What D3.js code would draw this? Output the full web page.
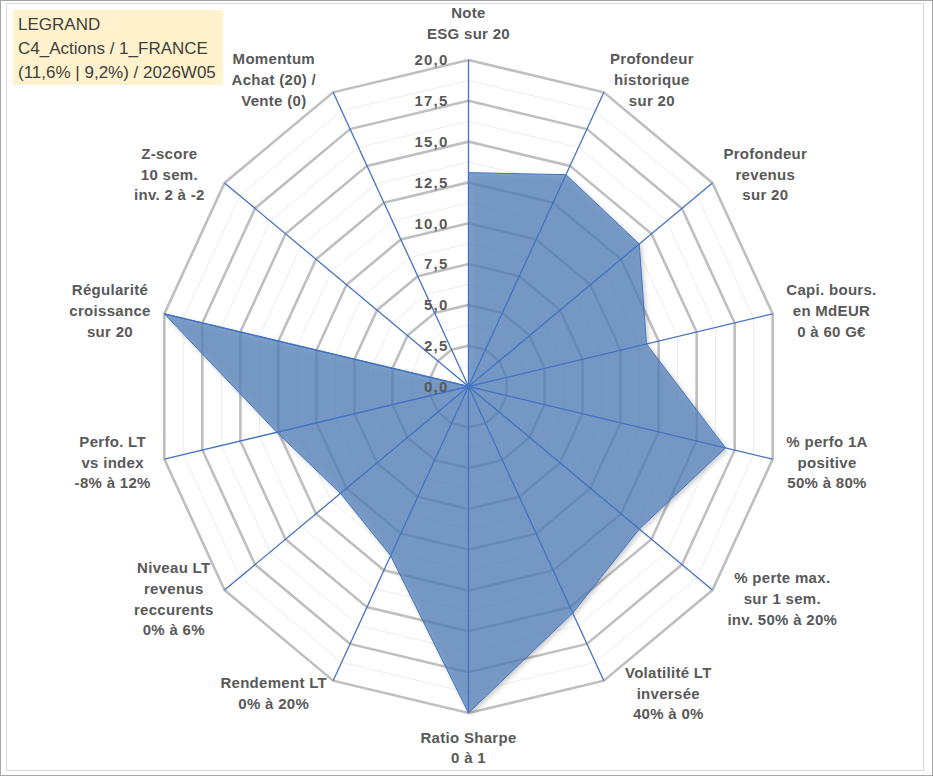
<!DOCTYPE html>
<html>
<head>
<meta charset="utf-8">
<script src="https://cdn.jsdelivr.net/npm/d3@7"></script>
<style>
  body { margin: 0; background: #fff; }
  svg { display: block; }
</style>
</head>
<body>
<div id="chart"></div>
<script>
// axis labels, clockwise from the top
const categories = [
  ["Note", "ESG sur 20"],
  ["Profondeur", "historique", "sur 20"],
  ["Profondeur", "revenus", "sur 20"],
  ["Capi. bours.", "en MdEUR", "0 à 60 G€"],
  ["% perfo 1A", "positive", "50% à 80%"],
  ["% perte max.", "sur 1 sem.", "inv. 50% à 20%"],
  ["Volatilité LT", "inversée", "40% à 0%"],
  ["Ratio Sharpe", "0 à 1"],
  ["Rendement LT", "0% à 20%"],
  ["Niveau LT", "revenus", "reccurents", "0% à 6%"],
  ["Perfo. LT", "vs index", "-8% à 12%"],
  ["Régularité", "croissance", "sur 20"],
  ["Z-score", "10 sem.", "inv. 2 à -2"],
  ["Momentum", "Achat (20) /", "Vente (0)"]
];
const values = [13.1, 14.4, 14.0, 11.7, 16.9, 14.0, 15.4, 20, 11.5, 10.5, 12.6, 20, 0, 0];
const majorTicks = [0, 2.5, 5, 7.5, 10, 12.5, 15, 17.5, 20];
const titleLines = ["LEGRAND", "C4_Actions / 1_FRANCE", "(11,6% | 9,2%) / 2026W05"];

const width = 933, height = 776;
const cx = 468.5, cy = 386.5;
const rMax = 20;

// the picture is a little squeezed horizontally
const sx = d3.scaleLinear().domain([0, rMax]).range([0, 312]);
const sy = d3.scaleLinear().domain([0, rMax]).range([0, 326.5]);
const angle = d3.scaleLinear().domain([0, categories.length]).range([0, 2 * Math.PI]);

const fr = d3.formatLocale({decimal: ",", thousands: " ", grouping: [3], currency: ["", "€"]});
const fmt = fr.format(".1f");

function px(v, i) { return cx + sx(v) * Math.sin(angle(i)); }
function py(v, i) { return cy - sy(v) * Math.cos(angle(i)); }

const svg = d3.select("#chart").append("svg")
  .attr("width", width)
  .attr("height", height);

const defs = svg.append("defs");
const shadow = defs.append("filter").attr("id", "shadow")
  .attr("x", "-10%").attr("y", "-10%").attr("width", "130%").attr("height", "130%");
shadow.append("feDropShadow")
  .attr("dx", 2).attr("dy", 2).attr("stdDeviation", 2.5)
  .attr("flood-color", "#000").attr("flood-opacity", 0.3);

// frame
svg.append("rect")
  .attr("x", 0.5).attr("y", 0.5).attr("width", width - 1).attr("height", height - 1)
  .attr("fill", "#fff").attr("stroke", "#a6a6a6");
svg.append("rect")
  .attr("x", 6.5).attr("y", 3.5).attr("width", 917).attr("height", 767)
  .attr("fill", "none").attr("stroke", "#d9d9d9");

const idx = d3.range(categories.length);
const ring = d3.line()
  .x(d => px(d.v, d.i))
  .y(d => py(d.v, d.i))
  .curve(d3.curveLinearClosed);

// minor rings
const minor = d3.range(1.25, rMax, 2.5);
svg.append("g").selectAll("path")
  .data(minor)
  .enter()
  .append("path")
  .attr("d", v => ring(idx.map(i => ({v: v, i: i}))))
  .attr("fill", "none")
  .attr("stroke", "#ededed")
  .attr("stroke-width", 1);

// major rings
svg.append("g").selectAll("path")
  .data(majorTicks.filter(v => v > 0))
  .enter()
  .append("path")
  .attr("d", v => ring(idx.map(i => ({v: v, i: i}))))
  .attr("fill", "none")
  .attr("stroke", "#bfbfbf")
  .attr("stroke-width", 2.6)
  .attr("stroke-linejoin", "miter");

// series
const pts = values.map((v, i) => ({v: v, i: i}));
svg.append("path")
  .attr("d", ring(pts))
  .attr("fill", "#5383ba")
  .attr("fill-opacity", 0.74)
  .attr("filter", "url(#shadow)");

// spokes
svg.append("g").selectAll("line")
  .data(idx)
  .enter()
  .append("line")
  .attr("x1", cx).attr("y1", cy)
  .attr("x2", i => px(rMax, i))
  .attr("y2", i => py(rMax, i))
  .attr("stroke", "#4472c4")
  .attr("stroke-width", 1.3);

svg.append("path")
  .attr("d", ring(pts))
  .attr("fill", "none")
  .attr("stroke", "#4472c4")
  .attr("stroke-width", 1);

// radial tick labels on the top axis
svg.append("g").selectAll("text")
  .data(majorTicks)
  .enter()
  .append("text")
  .attr("x", cx - 20)
  .attr("y", v => py(v, 0))
  .attr("dy", "0.36em")
  .attr("text-anchor", "end")
  .attr("font-family", "'Liberation Sans', Arial, sans-serif")
  .attr("font-weight", "bold")
  .attr("font-size", 15)
  .attr("letter-spacing", 1.2)
  .attr("fill", "#595959")
  .text(d => fmt(d));

// category labels, placed beside each outer vertex
const lineH = 20.7, gap = 14;
// Excel shifts a few of the boxes sideways
const nudge = {5: 4, 6: 15, 12: -9, 13: -11};
const labels = svg.append("g")
  .attr("font-family", "'Liberation Sans', Arial, sans-serif")
  .attr("font-weight", "bold")
  .attr("font-size", 15)
  .attr("letter-spacing", 0.3)
  .attr("fill", "#595959");

categories.forEach((lines, i) => {
  const a = angle(i);
  const s = Math.sin(a), c = Math.cos(a);
  const ax = px(rMax, i) + gap * s;
  const ay = py(rMax, i) - gap * c;
  const g = labels.append("g");
  const texts = g.selectAll("text")
    .data(lines)
    .enter()
    .append("text")
    .attr("text-anchor", "middle")
    .text(d => d);
  let w = 0;
  texts.each(function() { w = Math.max(w, this.getComputedTextLength()); });
  const h = lines.length * lineH;
  let bx, top;
  if (Math.abs(s) < 0.01) {
    bx = ax;
    top = c > 0 ? ay - h - 2 : ay;
  } else {
    bx = s > 0 ? ax + w / 2 : ax - w / 2;
    top = ay - h / 2;
  }
  bx += nudge[i] || 0;
  texts
    .attr("x", bx)
    .attr("y", (d, k) => top + lineH * (k + 0.5))
    .attr("dy", "0.36em");
});

// title box
const tb = svg.append("g");
tb.append("rect")
  .attr("x", 13).attr("y", 10).attr("width", 210).attr("height", 75)
  .attr("fill", "#fff2cc");
tb.selectAll("text")
  .data(titleLines)
  .enter()
  .append("text")
  .attr("x", 18)
  .attr("y", (d, k) => 24 + k * 24)
  .attr("dy", "0.36em")
  .attr("font-family", "'Liberation Sans', Arial, sans-serif")
  .attr("font-size", 17)
  .attr("fill", "#404040")
  .text(d => d);
</script>
</body>
</html>
